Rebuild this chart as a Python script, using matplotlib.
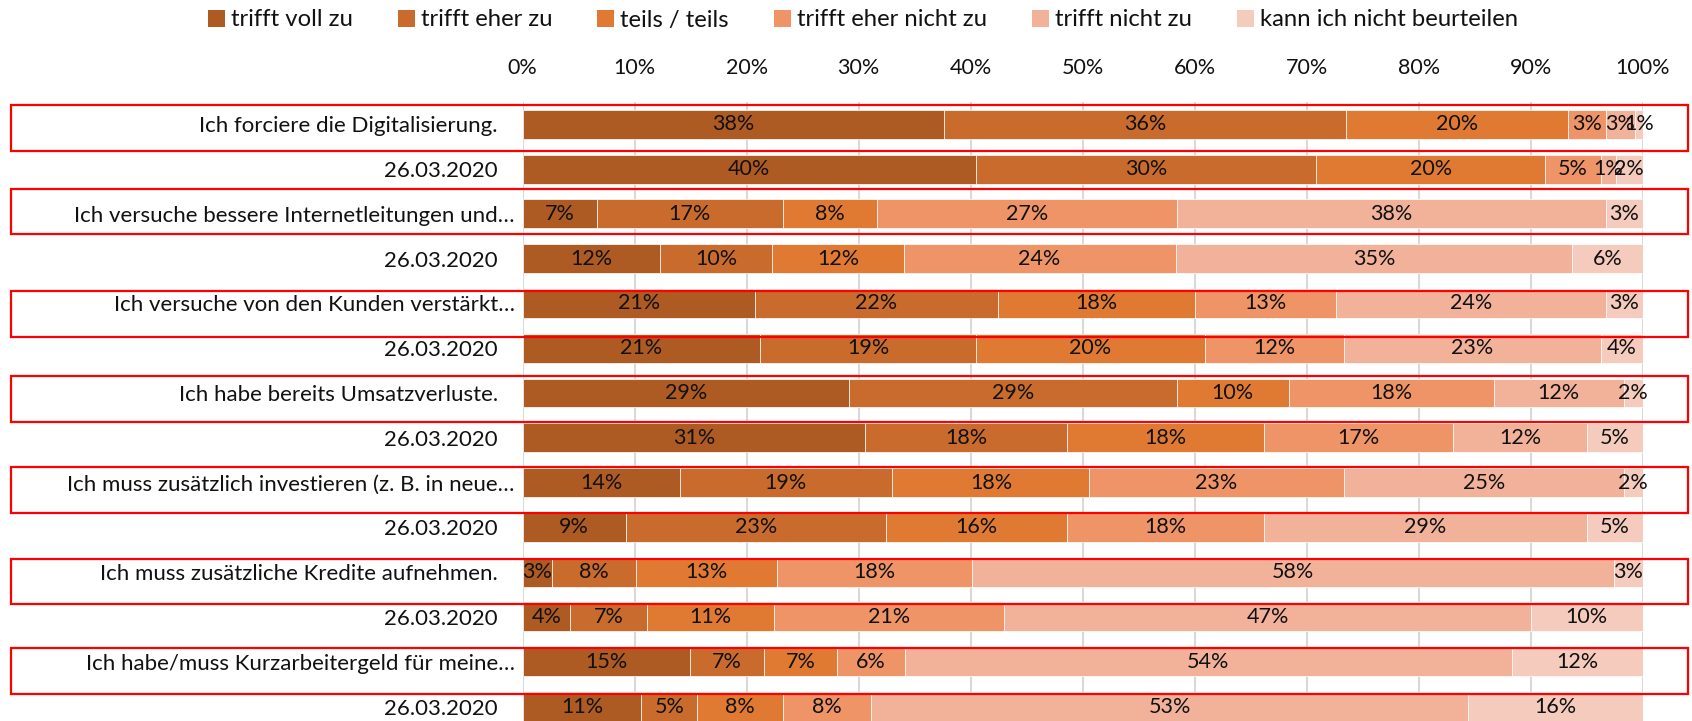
import matplotlib
matplotlib.use("Agg")
import matplotlib.pyplot as plt
import matplotlib.transforms as mtransforms
from matplotlib.patches import Patch, Rectangle
from matplotlib.ticker import MultipleLocator, PercentFormatter
import numpy as np

plt.rcParams['font.family'] = ['Lato', 'DejaVu Sans']

categories = [
    "Ich forciere die Digitalisierung.",
    "26.03.2020",
    "Ich versuche bessere Internetleitungen und…",
    "26.03.2020",
    "Ich versuche von den Kunden verstärkt…",
    "26.03.2020",
    "Ich habe bereits Umsatzverluste.",
    "26.03.2020",
    "Ich muss zusätzlich investieren (z. B. in neue…",
    "26.03.2020",
    "Ich muss zusätzliche Kredite aufnehmen.",
    "26.03.2020",
    "Ich habe/muss Kurzarbeitergeld für meine…",
    "26.03.2020",
]
series_names = ["trifft voll zu", "trifft eher zu", "teils / teils",
                "trifft eher nicht zu", "trifft nicht zu", "kann ich nicht beurteilen"]

# Anteile in % je Zeile (aus der Vorlage geschaetzt)
voll_zu    = [37.6, 40.4, 6.6, 12.3, 20.7, 21.2, 29.1, 30.6, 14.0, 9.2, 2.6, 4.2, 14.9, 10.6]
eher_zu    = [35.9, 30.4, 16.6, 10.0, 21.7, 19.3, 29.3, 18.0, 19.0, 23.2, 7.6, 6.9, 6.6, 5.0]
teils      = [19.8, 20.4, 8.4, 11.7, 17.6, 20.4, 10.0, 17.6, 17.6, 16.2, 12.6, 11.3, 6.6, 7.6]
eher_nicht = [3.4, 5.0, 26.8, 24.3, 12.6, 12.4, 18.3, 16.9, 22.7, 17.6, 17.6, 20.6, 6.0, 7.9]
nicht_zu   = [2.6, 1.3, 38.3, 35.4, 24.1, 23.0, 11.6, 11.9, 25.0, 28.8, 57.6, 47.0, 54.2, 53.3]
kann_nicht = [0.7, 2.4, 3.3, 6.3, 3.3, 3.7, 1.7, 5.0, 1.7, 5.0, 2.6, 10.0, 11.7, 15.6]

colors = ["#AE5A23", "#C96B2C", "#E07A33", "#EF9467", "#F2B29A", "#F5CBBD"]

# rote Markierungsrahmen (Zeile, Verschiebung in Zeilenhoehen)
boxed_rows = [0, 2, 4, 6, 8, 10, 12]
box_shift = [0.08, -0.05, 0.23, 0.14, 0.17, 0.21, 0.21]

W, H = 1692, 721
fig = plt.figure(figsize=(W / 100, H / 100), dpi=100)
ax_top, ax_h = 101.9, 627.0
ax = fig.add_axes([522.7 / W, 1 - (ax_top + ax_h) / H, 1120 / W, ax_h / H])

data = np.array([voll_zu, eher_zu, teils, eher_nicht, nicht_zu, kann_nicht])
shares = data / data.sum(axis=0) * 100
y = np.arange(len(categories))
left = np.zeros(len(categories))
for i, name in enumerate(series_names):
    bars = ax.barh(y, shares[i], left=left, height=0.647, color=colors[i],
                   edgecolor="white", linewidth=0.5, label=name, zorder=2)
    ax.bar_label(bars, labels=[f"{v:.0f}%" for v in data[i]], label_type="center",
                 fontsize=15.5, color="#111111")
    left += shares[i]

ax.set_xlim(0, 100)
ax.set_ylim(len(categories) - 0.5, -0.5)
ax.xaxis.set_major_locator(MultipleLocator(10))
ax.xaxis.set_major_formatter(PercentFormatter(decimals=0))
ax.xaxis.tick_top()
ax.tick_params(axis="x", length=0, pad=17, labelsize=15.5, labelcolor="#111111")
ax.grid(axis="x", color="#D9D9D9", linewidth=1.5, zorder=0)
ax.set_axisbelow(True)
for s in ax.spines.values():
    s.set_visible(False)

ax.set_yticks(y)
ax.set_yticklabels(categories, fontsize=16, color="#111111")
ax.tick_params(axis="y", length=0)
for tick, lab in zip(ax.yaxis.get_major_ticks(), categories):
    tick.set_pad(5.8 if lab.endswith("…") else 18)

trans = mtransforms.blended_transform_factory(fig.transFigure, ax.transData)
for r, sh in zip(boxed_rows, box_shift):
    rect = Rectangle((11 / W, r + sh - 0.51), 1677 / W, 1.02, transform=trans,
                     fill=False, edgecolor="#FF0000", linewidth=1.6,
                     clip_on=False, zorder=5)
    fig.patches.append(rect)

handles = [Patch(facecolor=c, label=n) for c, n in zip(colors, series_names)]
fig.legend(handles=handles, loc="center", bbox_to_anchor=(0.51, 1 - 20 / H),
           ncol=6, frameon=False, fontsize=17.2, handlelength=0.7, handleheight=0.7,
           handletextpad=0.25, columnspacing=1.9, labelcolor="#111111")

fig.savefig("out.png", dpi=100)
